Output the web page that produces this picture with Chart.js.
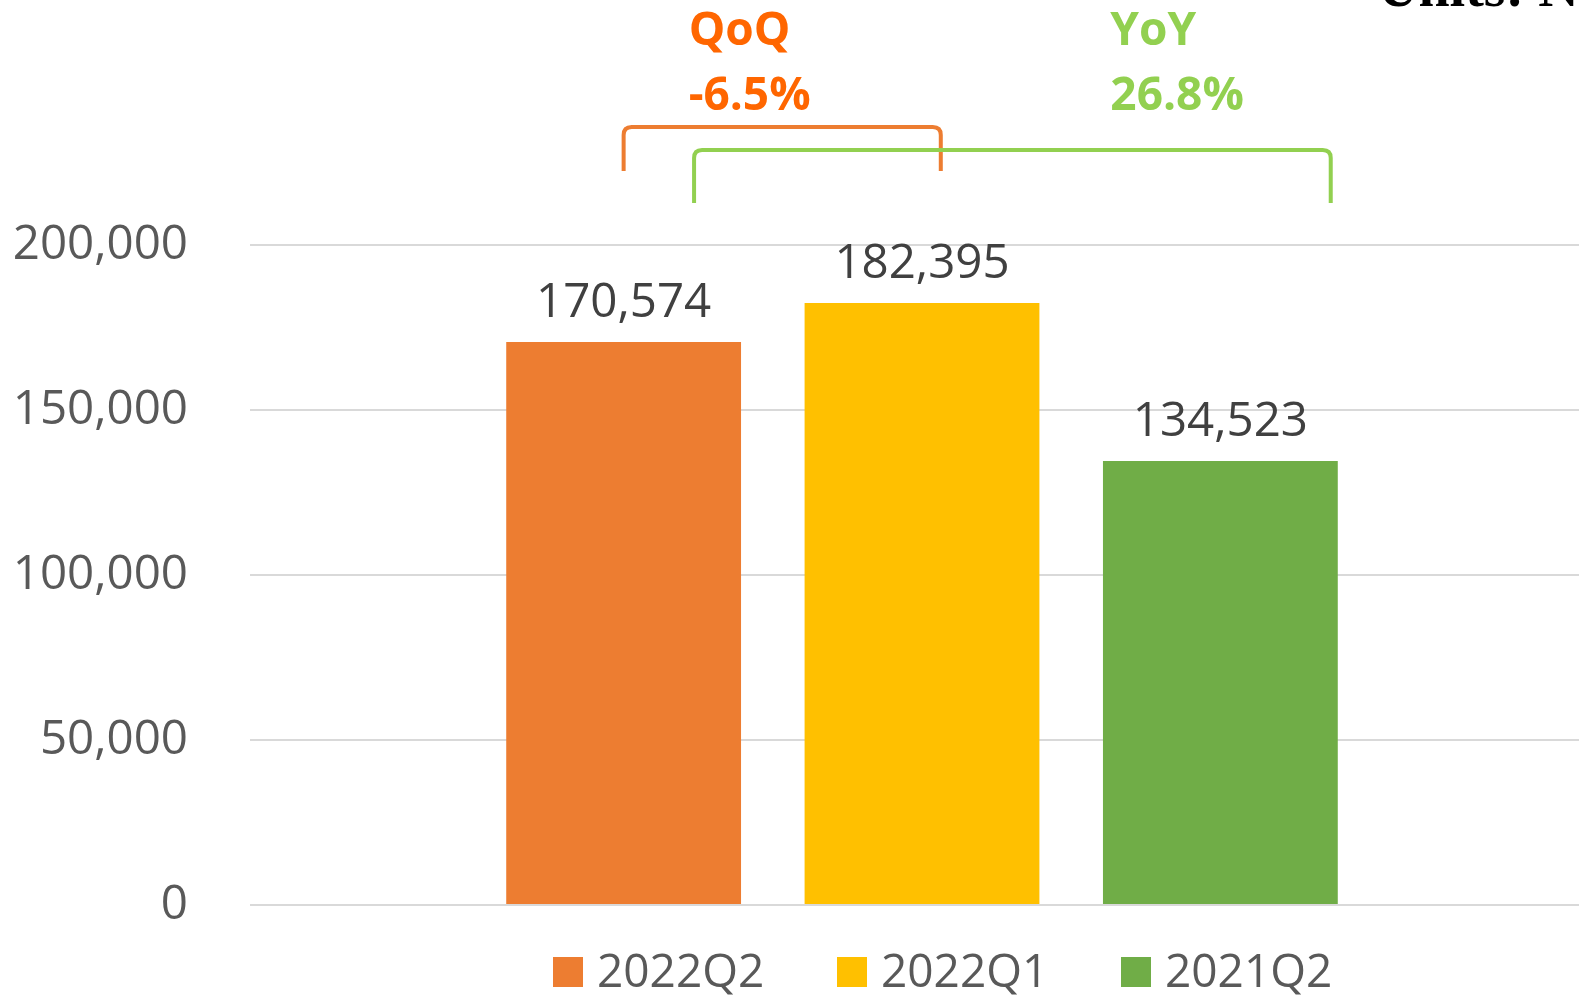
<!DOCTYPE html>
<html>
<head>
<meta charset="utf-8">
<script src="https://cdn.jsdelivr.net/npm/chart.js@4.4.0/dist/chart.umd.min.js"></script>
<style>
  html, body { margin: 0; padding: 0; background: #fff; overflow: hidden; }
  #wrap { width: 1594px; height: 996px; }
</style>
</head>
<body>
<div id="wrap"><canvas id="chart" width="1594" height="996"></canvas></div>
<script>
// Data
const categories = ['Revenue'];
const seriesLabels = ['2022Q2', '2022Q1', '2021Q2'];
const seriesValues = [170574, 182395, 134523];
const seriesColors = ['#ED7D31', '#FFC000', '#70AD47'];
const yTickValues = [0, 50000, 100000, 150000, 200000];
const qoqLabel = 'QoQ';
const qoqValue = '-6.5%';
const yoyLabel = 'YoY';
const yoyValue = '26.8%';
const unitsText = 'Units: NT$ thousand';

const fmt = new Intl.NumberFormat('en-US');

// Draws a rounded bracket above the bars
function bracket(ctx, x1, x2, top, bottom, color) {
    const r = 8;
    ctx.save();
    ctx.strokeStyle = color;
    ctx.lineWidth = 4;
    ctx.beginPath();
    ctx.moveTo(x1, bottom);
    ctx.lineTo(x1, top + r);
    ctx.quadraticCurveTo(x1, top, x1 + r, top);
    ctx.lineTo(x2 - r, top);
    ctx.quadraticCurveTo(x2, top, x2, top + r);
    ctx.lineTo(x2, bottom);
    ctx.stroke();
    ctx.restore();
}

const overlay = {
    id: 'overlay',
    afterDatasetsDraw(chart) {
        const ctx = chart.ctx;
        const bars = chart.data.datasets.map((d, i) => chart.getDatasetMeta(i).data[0]);

        // value labels
        ctx.save();
        ctx.font = '47.5px "Open Sans"';
        ctx.fillStyle = '#404040';
        ctx.textAlign = 'center';
        ctx.textBaseline = 'alphabetic';
        bars.forEach((b, i) => {
            ctx.fillText(fmt.format(seriesValues[i]), b.x, b.y - 25);
        });
        ctx.restore();

        // brackets
        const top = chart.chartArea.top;
        const [b0, b1, b2] = bars;
        bracket(ctx, b0.x, b1.x + b1.width * 0.08, top - 118, top - 74, '#ED7D31');
        bracket(ctx, b0.x + b0.width * 0.3, b2.x + b2.width * 0.47, top - 95, top - 42, '#92D050');

        // QoQ / YoY text
        ctx.save();
        ctx.font = 'bold 46px "Open Sans"';
        ctx.textAlign = 'left';
        ctx.fillStyle = '#FF6600';
        ctx.fillText(qoqLabel, b0.x + 65, 45);
        ctx.fillText(qoqValue, b0.x + 65, 110);
        ctx.fillStyle = '#92D050';
        ctx.fillText(yoyLabel, b2.x - 110, 45);
        ctx.fillText(yoyValue, b2.x - 110, 110);
        ctx.restore();

        // units (cut off at the top edge)
        ctx.save();
        ctx.font = 'bold 56px "Liberation Serif"';
        ctx.fillStyle = '#000';
        ctx.textAlign = 'left';
        ctx.fillText(unitsText, 1378, 6);
        ctx.restore();

        // legend
        ctx.save();
        ctx.font = '46px "Open Sans"';
        ctx.textBaseline = 'middle';
        ctx.textAlign = 'left';
        const legendX = [553, 837, 1121];
        const legendY = 972;
        chart.data.datasets.forEach((d, i) => {
            ctx.fillStyle = d.backgroundColor;
            ctx.fillRect(legendX[i], legendY - 15, 30, 30);
            ctx.fillStyle = '#595959';
            ctx.fillText(d.label, legendX[i] + 44, legendY + 2);
        });
        ctx.restore();
    }
};

new Chart(document.getElementById('chart'), {
    type: 'bar',
    data: {
        labels: categories,
        datasets: seriesLabels.map((label, i) => ({
            label,
            data: [seriesValues[i]],
            backgroundColor: seriesColors[i],
            borderWidth: 0,
            barPercentage: 0.787,
            categoryPercentage: 0.666
        }))
    },
    options: {
        responsive: false,
        animation: false,
        layout: { padding: { top: 245, bottom: 91, left: 0, right: 0 } },
        plugins: {
            legend: { display: false },
            tooltip: { enabled: false }
        },
        scales: {
            x: { display: false },
            y: {
                min: 0,
                max: 200000,
                afterFit: (axis) => { axis.width = 250; },
                afterBuildTicks: (axis) => {
                    axis.ticks = yTickValues.map((v) => ({ value: v }));
                },
                border: { display: false },
                grid: { color: '#D9D9D9', lineWidth: 2, drawTicks: false },
                ticks: {
                    padding: 62,
                    color: '#595959',
                    font: { family: 'Open Sans', size: 47.5 },
                    callback: (v) => fmt.format(v)
                }
            }
        }
    },
    plugins: [overlay]
});
</script>
</body>
</html>
